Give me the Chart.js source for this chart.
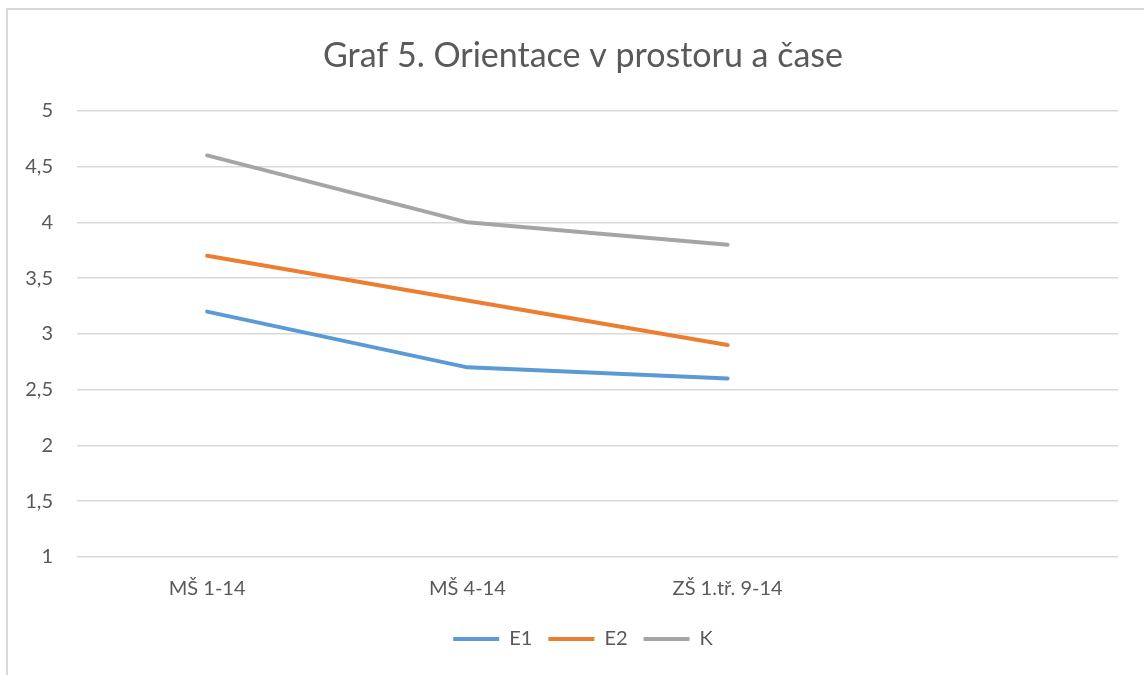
<!DOCTYPE html>
<html>
<head>
<meta charset="utf-8">
<script src="https://cdn.jsdelivr.net/npm/chart.js@4"></script>
<style>
    body { margin: 0; background: #fff; }
    #frame {
        position: absolute;
        left: 6px;
        top: 8px;
        width: 1140px;
        height: 670px;
        border: 2px solid #d9d9d9;
        box-sizing: border-box;
    }
    #wrap {
        position: absolute;
        left: 0;
        top: 0;
        width: 1144px;
        height: 675px;
    }
</style>
</head>
<body>
<div id="frame"></div>
<div id="wrap"><canvas id="myChart"></canvas></div>
<script>
// data
const categories = ['MŠ 1-14', 'MŠ 4-14', 'ZŠ 1.tř. 9-14', ''];
const e1 = [3.2, 2.7, 2.6];
const e2 = [3.7, 3.3, 2.9];
const k = [4.6, 4.0, 3.8];

const textColor = '#595959';
const gridColor = '#d9d9d9';

function makeSet(label, values, color) {
    return {
        label: label,
        data: values,
        borderColor: color,
        backgroundColor: color,
        borderWidth: 4,
        borderCapStyle: 'round',
        borderJoinStyle: 'round',
        pointRadius: 0,
        pointHoverRadius: 0,
        pointStyle: 'line',
        tension: 0,
        fill: false
    };
}

new Chart(document.getElementById('myChart'), {
    type: 'line',
    data: {
        labels: categories,
        datasets: [
            makeSet('E1', e1, '#5b9bd5'),
            makeSet('E2', e2, '#ed7d31'),
            makeSet('K', k, '#a5a5a5')
        ]
    },
    options: {
        responsive: true,
        maintainAspectRatio: false,
        animation: false,
        layout: {
            padding: { left: 24, right: 2, top: 36, bottom: 16 }
        },
        scales: {
            x: {
                offset: true,
                grid: { display: false },
                border: { display: false },
                ticks: {
                    color: textColor,
                    font: { family: 'Lato', size: 20 },
                    maxRotation: 0,
                    padding: 12
                }
            },
            y: {
                min: 1,
                max: 5,
                grid: { color: gridColor, lineWidth: 1.5, drawTicks: false },
                border: { display: false },
                afterFit: function(scale) { scale.width = 53; },
                ticks: {
                    stepSize: 0.5,
                    color: textColor,
                    padding: 24,
                    font: { family: 'Lato', size: 20 },
                    callback: function(value) {
                        return value.toString().replace('.', ',');
                    }
                }
            },
            // empty right gutter so the title and legend centre on the whole frame
            gutter: {
                type: 'linear',
                position: 'right',
                grid: { display: false },
                border: { display: false },
                ticks: { display: false },
                afterFit: function(scale) { scale.width = 24; }
            }
        },
        plugins: {
            title: {
                display: true,
                text: 'Graf 5. Orientace v prostoru a čase',
                color: textColor,
                font: { family: 'Lato', size: 34, weight: 'normal' },
                padding: { top: 0, bottom: 34 }
            },
            legend: {
                position: 'bottom',
                labels: {
                    usePointStyle: true,
                    pointStyleWidth: 46,
                    color: textColor,
                    font: { family: 'Lato', size: 20 },
                    padding: 16
                }
            },
            tooltip: { enabled: false }
        }
    }
});
</script>
</body>
</html>
